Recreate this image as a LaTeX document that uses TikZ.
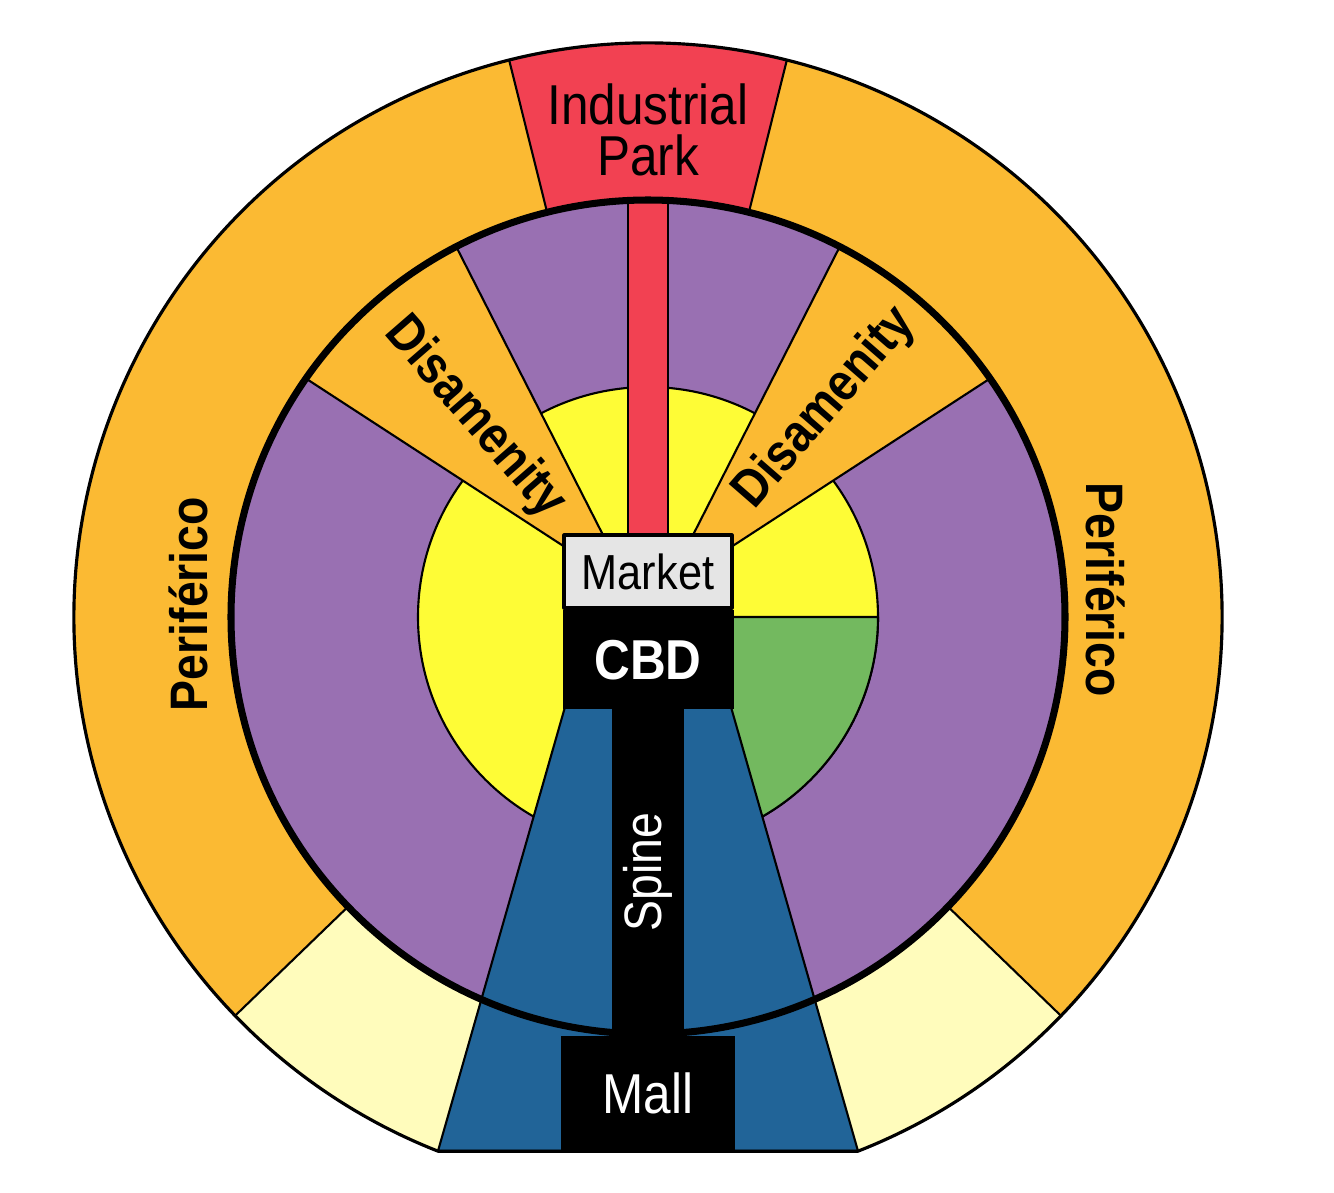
\documentclass[tikz,border=0pt]{standalone}
\usepackage{fontspec}
\setmainfont{Liberation Sans}
\newfontfamily\condfont[FakeStretch=0.88]{Liberation Sans}
\usetikzlibrary{positioning, calc}

\definecolor{perifOrange}{RGB}{251,186,51}
\definecolor{paleYellow}{RGB}{255,252,188}
\definecolor{parkRed}{RGB}{242,65,82}
\definecolor{zonePurple}{RGB}{153,112,178}
\definecolor{zoneYellow}{RGB}{254,252,54}
\definecolor{zoneGreen}{RGB}{115,185,95}
\definecolor{spineBlue}{RGB}{33,100,152}
\definecolor{marketGray}{RGB}{229,229,229}

\begin{document}
\begin{tikzpicture}[
  line join=round,
  zone/.style={draw=black, line width=0.6pt},
  ring/.style={draw=black, line width=2pt},
  bar/.style={fill=black, text=white, inner sep=0pt, font=\condfont\fontsize{15}{17}\selectfont},
  lbl/.style={font=\condfont\fontsize{15}{17}\selectfont\bfseries, inner sep=0pt}
]
  \useasboundingbox (-6.48,-5.75) rectangle (6.86,6.17);

  % outer ring: periferico, industrial park, pale sectors
  \begin{scope}
    \clip (-7,-5.34) rectangle (7,7);
    \fill[perifOrange] (0,0) circle (5.74);
    \fill[paleYellow] (0,0) -- (224:5.74) arc[start angle=224, end angle=316, radius=5.74] -- cycle;
    \fill[parkRed] (76:4) -- (76:5.74) arc[start angle=76, end angle=104, radius=5.74] -- (104:4) -- cycle;
  \end{scope}
  \draw[zone] (76:4.17) -- (76:5.74) (104:4.17) -- (104:5.74)
              (224:4.17) -- (224:5.74) (316:4.17) -- (316:5.74);

  % inner zones
  \fill[zonePurple] (0,0) circle (4.17);
  \filldraw[zone, fill=zoneYellow] (0,0) circle (2.30);
  \filldraw[zone, fill=zoneGreen] (0,0) -- (2.30,0) arc[start angle=0, end angle=-90, radius=2.30] -- cycle;
  \begin{scope}
    \clip (0,0) circle (4.17);
    \filldraw[zone, fill=perifOrange] (-0.17,0.27) -- (-4.32,2.97) -- (-2.42,4.69) -- cycle;
    \filldraw[zone, fill=perifOrange] (0.17,0.27) -- (4.32,2.97) -- (2.42,4.69) -- cycle;
  \end{scope}
  \filldraw[zone, fill=parkRed] (-0.20,0.6) rectangle (0.20,4.17);
  \filldraw[zone, fill=spineBlue] (-0.83,-0.90) -- (-2.10,-5.34) -- (2.10,-5.34) -- (0.83,-0.90) -- cycle;
  \draw[ring] (0,0) circle (4.17);
  \draw[black, line width=0.9pt] (-68.54:5.74) arc[start angle=-68.54, end angle=248.54, radius=5.74] -- cycle;

  % centre and spine
  \node[draw=black, line width=0.9pt, fill=marketGray, minimum width=1.68cm, minimum height=0.73cm,
        inner sep=0pt, font=\condfont\fontsize{14}{16}\selectfont] (market) at (0,0.455) {Market};
  \node[bar, below=0pt of market, minimum width=1.71cm, minimum height=0.99cm,
        font=\condfont\fontsize{16}{18}\selectfont\bfseries] (cbd) {CBD};
  \node[bar, rotate=90, minimum width=3.30cm, minimum height=0.72cm] (spine) at (0,-2.55) {Spine};
  \node[bar, anchor=north, minimum width=1.74cm, minimum height=1.16cm,
        font=\condfont\fontsize{16}{18}\selectfont] (mall) at (0,-4.18) {Mall};

  % labels
  \node[font=\condfont\fontsize{16}{14.5}\selectfont, align=center] (park) at (0,4.87) {Industrial\\Park};
  \node[lbl, rotate=-49] (disL) at (-1.73,1.99) {Disamenity};
  \node[lbl, rotate=49] (disR) at (1.77,2.09) {Disamenity};
  \node[lbl, rotate=90] (perifL) at (-4.60,0.13) {Periférico};
  \node[lbl, rotate=-90] (perifR) at (4.58,0.27) {Periférico};
\end{tikzpicture}
\end{document}
